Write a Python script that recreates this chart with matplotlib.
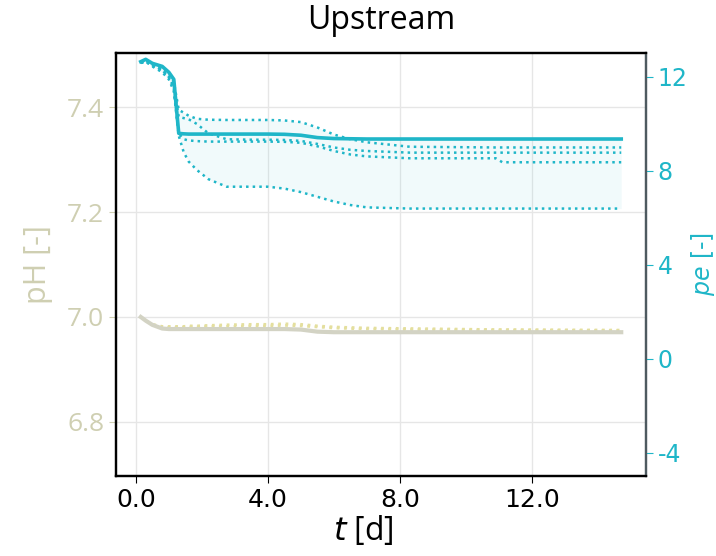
import numpy as np
import matplotlib.pyplot as plt

# time grid [d]
t = [0.15, 0.3, 0.5, 0.8, 1.0, 1.15, 1.3, 1.45, 1.6, 1.85, 2.2, 2.75,
     3.5, 4.0, 4.5, 5.0, 5.5, 6.0, 6.5, 7.0, 8.3, 10.9, 11.1, 14.7]

# pe: main run + ensemble members
pe_main = [12.65, 12.75, 12.58, 12.45, 12.2, 11.9, 9.6, 9.58, 9.57, 9.57, 9.57, 9.57,
           9.57, 9.57, 9.56, 9.52, 9.42, 9.38, 9.37, 9.36, 9.36, 9.36, 9.36, 9.36]
pe_a = [12.6, 12.7, 12.55, 12.4, 12.15, 11.8, 10.6, 10.48, 10.35, 10.22, 10.18, 10.17,
        10.17, 10.17, 10.15, 10.08, 9.85, 9.55, 9.35, 9.22, 9.03, 9.0, 9.0, 9.0]
pe_b = [12.6, 12.7, 12.5, 12.3, 12.0, 11.6, 10.3, 10.25, 10.2, 10.0, 9.6, 9.35,
        9.33, 9.33, 9.32, 9.28, 9.15, 9.0, 8.9, 8.85, 8.78, 8.78, 8.78, 8.78]
pe_c = [12.6, 12.65, 12.5, 12.3, 12.0, 11.5, 9.6, 9.35, 9.3, 9.27, 9.25, 9.25,
        9.25, 9.25, 9.24, 9.2, 9.05, 8.85, 8.7, 8.62, 8.54, 8.54, 8.37, 8.37]
pe_d = [12.6, 12.65, 12.45, 12.2, 11.9, 11.4, 9.5, 8.8, 8.4, 8.04, 7.65, 7.33,
        7.33, 7.33, 7.25, 7.1, 6.9, 6.7, 6.55, 6.45, 6.4, 6.4, 6.4, 6.4]

# pH: main run + ensemble members
ph_main = [7.000, 6.993, 6.985, 6.978, 6.977, 6.977, 6.977, 6.977, 6.977, 6.977, 6.977, 6.977,
           6.977, 6.977, 6.977, 6.976, 6.972, 6.971, 6.971, 6.971, 6.971, 6.971, 6.971, 6.971]
ph_a = [7.000, 6.993, 6.986, 6.982, 6.982, 6.982, 6.982, 6.982, 6.983, 6.983, 6.984, 6.985,
        6.986, 6.986, 6.987, 6.986, 6.983, 6.981, 6.980, 6.979, 6.978, 6.976, 6.976, 6.975]
ph_b = [7.000, 6.993, 6.985, 6.980, 6.980, 6.980, 6.980, 6.980, 6.981, 6.981, 6.982, 6.982,
        6.983, 6.983, 6.984, 6.983, 6.981, 6.979, 6.978, 6.977, 6.976, 6.975, 6.975, 6.974]

pe_color = '#1fb6c8'
ph_color = '#d3d3c4'
ph_dot = '#e4df9e'
ph_tick = '#cfcfb2'

plt.rcParams['font.family'] = ['Open Sans', 'DejaVu Sans']
plt.rcParams['axes.unicode_minus'] = False
fig = plt.figure(figsize=(7.16, 5.56), dpi=100)
ax1 = fig.add_axes([116/716, 80/556, 530/716, 423/556])
ax2 = ax1.twinx()

# pH (left axis)
ax1.plot(t, ph_a, color=ph_dot, lw=2, ls=':')
ax1.plot(t, ph_b, color=ph_dot, lw=2, ls=':')
ax1.plot(t, ph_main, color=ph_color, lw=3)
ax1.set_ylim(6.697, 7.503)
ax1.set_yticks([6.8, 7.0, 7.2, 7.4])
ax1.set_yticklabels(['6.8', '7.0', '7.2', '7.4'])
ax1.tick_params(axis='y', labelcolor=ph_tick, color=ph_tick, labelsize=19, length=5)
ax1.set_ylabel('pH [-]', color=ph_tick, fontsize=22, labelpad=10)

# pe (right axis)
members = [pe_a, pe_b, pe_c, pe_d]
arr = np.array(members + [pe_main])
ax2.fill_between(t, arr.min(axis=0), arr.max(axis=0), color=pe_color, alpha=0.06, lw=0)
for m in members:
    ax2.plot(t, m, color=pe_color, lw=1.8, ls=':')
ax2.plot(t, pe_main, color=pe_color, lw=2.6)
ax2.set_ylim(-4.98, 13.02)
ax2.set_yticks([-4, 0, 4, 8, 12])
ax2.set_yticklabels(['-4', '0', '4', '8', '12'], family='DejaVu Sans')
ax2.tick_params(axis='y', labelcolor=pe_color, color=pe_color, labelsize=17, length=5)
ax2.set_ylabel('$pe$ [-]', color=pe_color, fontsize=17, labelpad=1, family='DejaVu Sans')

ax1.set_xlim(-0.6, 15.45)
ax1.set_xticks([0, 4, 8, 12])
ax1.set_xticklabels(['0.0', '4.0', '8.0', '12.0'], family='DejaVu Sans')
ax1.tick_params(axis='x', labelsize=18, length=5)
ax1.set_xlabel('$t$ [d]', fontsize=23)
ax1.xaxis.set_label_coords(0.466, -0.09)
ax1.grid(True, color='#e6e6e6', lw=1)
ax1.set_axisbelow(True)

for ax in (ax1, ax2):
    ax.spines['left'].set_color('black')
    ax.spines['bottom'].set_color('black')
    ax.spines['top'].set_color('black')
    ax.spines['right'].set_color('#4e5a60')
    for s in ax.spines.values():
        s.set_linewidth(1.6)

ax1.set_title('Upstream', fontsize=23, pad=17)

fig.savefig('out.png', dpi=100)
